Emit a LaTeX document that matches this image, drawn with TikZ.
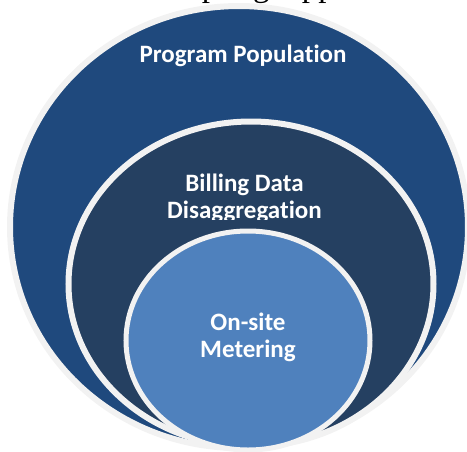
\documentclass[tikz,border=0pt]{standalone}
\usepackage{fontspec}
\newfontfamily\carlito[Ligatures=NoCommon]{Carlito}
\newfontfamily\tnr{Liberation Serif}
\definecolor{ringgray}{HTML}{F2F2F2}
\definecolor{outerblue}{HTML}{1F497D}
\definecolor{midnavy}{HTML}{254061}
\definecolor{innerblue}{HTML}{4F81BD}
\begin{document}
\begin{tikzpicture}[x=1pt,y=-1pt,
  ring/.style={draw=ringgray},
  label/.style={text=white,font=\carlito\bfseries\fontsize{25}{27}\selectfont,align=center,inner sep=0pt},
  cut/.style={text=black,font=\tnr\fontsize{33}{33}\selectfont,inner sep=0pt}]
\useasboundingbox (0,0) rectangle (467,451);
% fragment of a text line above, clipped
\begin{scope}
\clip (0,0) rectangle (467,4.5);
\node[cut,anchor=base west] (caption) at (143,-3.2) {Sampling Approach};
\end{scope}
% outer
\path[ring,line width=6pt,fill=outerblue] (239,227) ellipse [x radius=229,y radius=221];
% middle
\path[ring,line width=6pt,fill=midnavy] (251,284) ellipse [x radius=182.5,y radius=162.5];
% inner
\path[ring,line width=5pt,fill=innerblue] (248,340.5) ellipse [x radius=122,y radius=109.5];
% labels
\node[label,anchor=base] (pop) at (243,62) {Program Population};
\begin{scope}
\clip (0,0) rectangle (467,219.5);
\node[label,anchor=base] (bill) at (244.5,218) {Billing Data\\Disaggregation};
\end{scope}
\node[label,anchor=base] (meter) at (248,357) {On-site\\Metering};
\end{tikzpicture}
\end{document}
